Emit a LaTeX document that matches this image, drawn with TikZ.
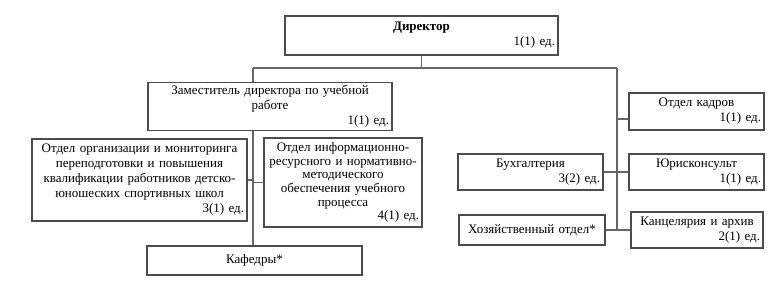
\documentclass[tikz,border=0pt]{standalone}
\usepackage{fontspec}
\setmainfont{Liberation Serif}
\usetikzlibrary{positioning}
\newcommand{\ed}[1]{\\\hspace*{0pt plus 1filll}#1~ед.}
\tikzset{
  unit/.style={draw=black!70, line width=1.1pt, align=center, inner sep=3pt, font=\fontsize{13}{15}\selectfont},
  box/.style 2 args={text width=#1, minimum height=#2},
  link/.style={draw=black!60, line width=1.1pt}
}

\begin{document}
\begin{tikzpicture}[x=1pt, y=-1pt]
    \useasboundingbox (0,0) rectangle (777,293);
    % leadership
    \node[unit, box={267pt}{39pt}] (dir) at (421.5,35.5) {\textbf{Директор}\ed{1(1)}};
    \node[unit, box={238pt}{43pt}] (dep) at (270,106.5) {Заместитель директора по учебной\\работе\ed{1(1)}};
    % academic side
    \node[unit, box={209pt}{82pt}] (mon) at (139.5,180) {Отдел организации и мониторинга\\переподготовки и повышения\\квалификации работников детско-\\юношеских спортивных школ\ed{3(1)}};
    \node[unit, box={152pt}{89pt}, font=\fontsize{13}{13.6}\selectfont] (info) at (343,182.5) {Отдел информационно-\\ресурсного и нормативно-\\методического\\обеспечения учебного\\процесса\ed{4(1)}};
    \node[unit, box={209pt}{29pt}] (kaf) at (254.5,260.5) {Кафедры*};
    % administrative side
    \node[unit, box={129pt}{37pt}] (kadr) at (696.5,111.5) {Отдел кадров\ed{1(1)}};
    \node[unit, box={139pt}{36pt}] (buh) at (530.5,172) {Бухгалтерия\ed{3(2)}};
    \node[unit, box={129pt}{36pt}] (yur) at (696.5,172) {Юрисконсульт\ed{1(1)}};
    \node[unit, box={140pt}{30pt}] (hoz) at (532,230) {Хозяйственный отдел*};
    \node[unit, box={126pt}{36pt}] (kanc) at (697,230) {Канцелярия и архив\ed{2(1)}};

    \coordinate (jl) at (253,68);
    \coordinate (jr) at (617,68);
    \coordinate (kadrin) at ([yshift=-7.5pt]kadr.west);
    \draw[link] (dir.south) -- (dir.south |- jl);
    \draw[link] (jl) -- (jr);
    \draw[link] (jl) -- (jl |- dep.north);
    \draw[link] (jl |- dep.south) -- (jl |- kaf.north);
    \draw[link] (mon.east) -- (jl |- mon.east);
    \draw[link] (info.west) -- (jl |- info.west);
    \draw[link] (jr) -- (jr |- hoz.east);
    \draw[link] (kadrin) -- (jr |- kadrin);
    \draw[link] (buh.east) -- (yur.west);
    \draw[link] (hoz.east) -- (kanc.west);
\end{tikzpicture}
\end{document}
